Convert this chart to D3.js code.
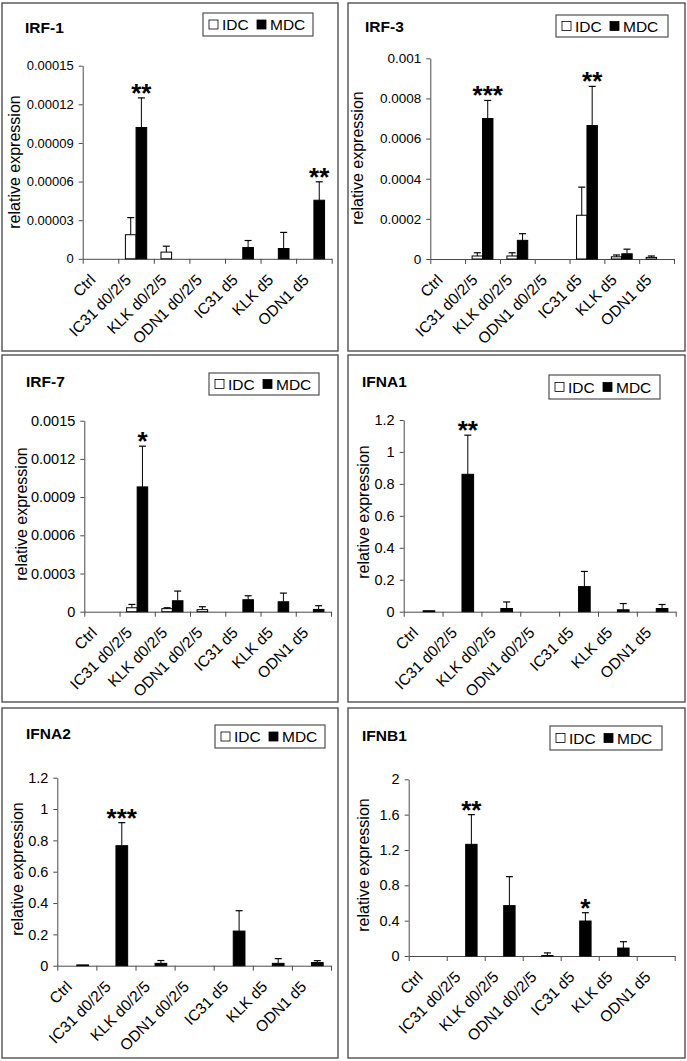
<!DOCTYPE html>
<html><head><meta charset="utf-8">
<script src="https://cdn.jsdelivr.net/npm/d3@7"></script>
<style>body{margin:0;background:#fff}</style>
</head><body>
<script>
// ---------- DATA ----------
const categories = ["Ctrl","IC31 d0/2/5","KLK d0/2/5","ODN1 d0/2/5","IC31 d5","KLK d5","ODN1 d5"];
const seriesNames = ["IDC","MDC"];

const irf1IDC    = [0, 0.0000187, 0.0000052, 0, 0, 0, 0];
const irf1IDCErr = [0, 0.0000133, 0.0000046, 0, 0, 0, 0];
const irf1MDC    = [0, 0.000102, 0, 0, 0.0000088, 0.0000080, 0.0000455];
const irf1MDCErr = [0, 0.000023, 0, 0, 0.0000054, 0.0000125, 0.0000143];
const irf1Sig    = ["", "**", "", "", "", "", "**"];
const irf1Ticks  = [0, 0.00003, 0.00006, 0.00009, 0.00012, 0.00015];
const irf1TickLabels = ["0","0.00003","0.00006","0.00009","0.00012","0.00015"];

const irf3IDC    = [0, 0.000015, 0.000015, 0, 0.000218, 0.000011, 0.000008];
const irf3IDCErr = [0, 0.000016, 0.000016, 0, 0.00014, 0.000009, 0.000007];
const irf3MDC    = [0, 0.0007, 0.000093, 0, 0.000665, 0.000026, 0];
const irf3MDCErr = [0, 0.00009, 0.000033, 0, 0.000195, 0.000023, 0];
const irf3Sig    = ["", "***", "", "", "**", "", ""];
const irf3Ticks  = [0, 0.0002, 0.0004, 0.0006, 0.0008, 0.001];
const irf3TickLabels = ["0","0.0002","0.0004","0.0006","0.0008","0.001"];

const irf7IDC    = [0, 0.000031, 0.000024, 0.000016, 0, 0, 0];
const irf7IDCErr = [0, 0.000026, 0.000007, 0.000023, 0, 0, 0];
const irf7MDC    = [0, 0.00098, 0.000086, 0, 0.000094, 0.000078, 0.000018];
const irf7MDCErr = [0, 0.00032, 0.000076, 0, 0.000031, 0.000068, 0.000029];
const irf7Sig    = ["", "*", "", "", "", "", ""];
const irf7Ticks  = [0, 0.0003, 0.0006, 0.0009, 0.0012, 0.0015];
const irf7TickLabels = ["0","0.0003","0.0006","0.0009","0.0012","0.0015"];

const ifna1IDC    = [0, 0, 0, 0, 0, 0, 0];
const ifna1IDCErr = [0, 0, 0, 0, 0, 0, 0];
const ifna1MDC    = [0.006, 0.86, 0.02, 0, 0.157, 0.012, 0.02];
const ifna1MDCErr = [0, 0.245, 0.041, 0, 0.095, 0.039, 0.025];
const ifna1Sig    = ["", "**", "", "", "", "", ""];
const ifna1Ticks  = [0, 0.2, 0.4, 0.6, 0.8, 1, 1.2];
const ifna1TickLabels = ["0","0.2","0.4","0.6","0.8","1","1.2"];

const ifna2IDC    = [0, 0, 0, 0, 0, 0, 0];
const ifna2IDCErr = [0, 0, 0, 0, 0, 0, 0];
const ifna2MDC    = [0.005, 0.766, 0.015, 0, 0.221, 0.015, 0.02];
const ifna2MDCErr = [0, 0.147, 0.018, 0, 0.13, 0.03, 0.012];
const ifna2Sig    = ["", "***", "", "", "", "", ""];
const ifna2Ticks  = [0, 0.2, 0.4, 0.6, 0.8, 1, 1.2];
const ifna2TickLabels = ["0","0.2","0.4","0.6","0.8","1","1.2"];

const ifnb1IDC    = [0, 0, 0, 0, 0, 0, 0];
const ifnb1IDCErr = [0, 0, 0, 0, 0, 0, 0];
const ifnb1MDC    = [0, 1.264, 0.57, 0.005, 0.396, 0.09, 0];
const ifnb1MDCErr = [0, 0.336, 0.328, 0.03, 0.094, 0.072, 0];
const ifnb1Sig    = ["", "**", "", "", "*", "", ""];
const ifnb1Ticks  = [0, 0.4, 0.8, 1.2, 1.6, 2];
const ifnb1TickLabels = ["0","0.4","0.8","1.2","1.6","2"];

const titles = ["IRF-1","IRF-3","IRF-7","IFNA1","IFNA2","IFNB1"];
const yAxisTitle = "relative expression";

// ---------- LAYOUT ----------
const layouts = [
  {box:[2,3,338,351],   plot:[82.7,331.7,65.7,258.8],  title:[25,33],   legend:[203,13,110,23], ylab:[20,162], tickFont:13},
  {box:[348,3,685,351], plot:[430.3,674,58.3,259],     title:[365,32],  legend:[556,15,112,22], ylab:[363,158], tickFont:13.5},
  {box:[2,355,338,702], plot:[84.3,331,420.7,611.7],   title:[26,387],  legend:[209,373,110,22], ylab:[27,514], tickFont:14.5},
  {box:[348,355,685,702], plot:[403.7,675.7,420,611.7], title:[362,387], legend:[549,375,111,24], ylab:[369,512], tickFont:14.5},
  {box:[2,708,338,1058], plot:[57.3,331,777.7,965.7],  title:[26,739],  legend:[215,725,110,23], ylab:[23,869], tickFont:14.5},
  {box:[348,708,685,1058], plot:[408.7,674.7,779.3,956], title:[362,741], legend:[550,726,112,24], ylab:[369,865], tickFont:14.5}
];

const panelData = [
  {idc:irf1IDC, idcErr:irf1IDCErr, mdc:irf1MDC, mdcErr:irf1MDCErr, sig:irf1Sig, ticks:irf1Ticks, labels:irf1TickLabels},
  {idc:irf3IDC, idcErr:irf3IDCErr, mdc:irf3MDC, mdcErr:irf3MDCErr, sig:irf3Sig, ticks:irf3Ticks, labels:irf3TickLabels},
  {idc:irf7IDC, idcErr:irf7IDCErr, mdc:irf7MDC, mdcErr:irf7MDCErr, sig:irf7Sig, ticks:irf7Ticks, labels:irf7TickLabels},
  {idc:ifna1IDC, idcErr:ifna1IDCErr, mdc:ifna1MDC, mdcErr:ifna1MDCErr, sig:ifna1Sig, ticks:ifna1Ticks, labels:ifna1TickLabels},
  {idc:ifna2IDC, idcErr:ifna2IDCErr, mdc:ifna2MDC, mdcErr:ifna2MDCErr, sig:ifna2Sig, ticks:ifna2Ticks, labels:ifna2TickLabels},
  {idc:ifnb1IDC, idcErr:ifnb1IDCErr, mdc:ifnb1MDC, mdcErr:ifnb1MDCErr, sig:ifnb1Sig, ticks:ifnb1Ticks, labels:ifnb1TickLabels}
];

const FONT = "'Liberation Sans', Arial, Helvetica, sans-serif";
const AXIS = "#4a4a4a";
const W = 687, H = 1061;

const svg = d3.select("body").append("svg").attr("width", W).attr("height", H)
  .style("font-family", FONT);
svg.append("rect").attr("width", W).attr("height", H).attr("fill", "#fff");

panelData.forEach((pd, pi) => {
  const L = layouts[pi];
  const g = svg.append("g");
  const [bx0, by0, bx1, by1] = L.box;
  g.append("rect").attr("x", bx0).attr("y", by0).attr("width", bx1 - bx0).attr("height", by1 - by0)
    .attr("fill", "#fff").attr("stroke", "#505050").attr("stroke-width", 1.4);

  const [px0, px1, pyTop, py0] = L.plot;
  const y = d3.scaleLinear().domain([0, d3.max(pd.ticks)]).range([py0, pyTop]);
  const x = d3.scaleBand().domain(categories).range([px0, px1]).padding(0);
  const xs = d3.scaleBand().domain(seriesNames).range([0, x.bandwidth()]).paddingInner(0).paddingOuter(0.67);

  // y axis
  const ya = g.append("g").attr("transform", `translate(${px0},0)`)
    .call(d3.axisLeft(y).tickValues(pd.ticks).tickFormat((d, i) => pd.labels[i]).tickSize(4).tickSizeOuter(0).tickPadding(5));
  ya.select(".domain").attr("stroke", AXIS);
  ya.selectAll(".tick line").attr("stroke", AXIS);
  ya.selectAll(".tick text").attr("fill", "#000").style("font-size", L.tickFont + "px").style("font-family", FONT);

  // x axis baseline + boundary ticks
  const xb = d3.scaleLinear().domain([0, categories.length]).range([px0, px1]);
  const xa = g.append("g").attr("transform", `translate(0,${py0})`)
    .call(d3.axisBottom(xb).tickValues(d3.range(categories.length + 1)).tickFormat("").tickSize(5).tickSizeOuter(0));
  xa.select(".domain").attr("stroke", AXIS);
  xa.selectAll(".tick line").attr("stroke", AXIS);

  // category labels
  const xl = g.append("g").attr("transform", `translate(0,${py0})`)
    .call(d3.axisBottom(x).tickSize(0).tickPadding(0));
  xl.select(".domain").remove();
  xl.selectAll(".tick text")
    .attr("x", 0).attr("y", 0).attr("dy", 0)
    .attr("transform", "translate(-4,22) rotate(-45)")
    .style("text-anchor", "end").attr("fill", "#000")
    .style("font-size", "15.5px").style("font-family", FONT);

  // bars
  const rows = categories.map((c, i) => ({cat: c, i,
    vals: [{s: "IDC", v: pd.idc[i], e: pd.idcErr[i]}, {s: "MDC", v: pd.mdc[i], e: pd.mdcErr[i]}]}));
  const cg = g.selectAll(".cat").data(rows).join("g").attr("transform", d => `translate(${x(d.cat)},0)`);
  cg.selectAll("rect.bar").data(d => d.vals.filter(v => v.v > 0)).join("rect")
    .attr("class", "bar")
    .attr("x", d => xs(d.s)).attr("width", xs.bandwidth())
    .attr("y", d => y(d.v)).attr("height", d => y(0) - y(d.v))
    .attr("fill", d => d.s === "MDC" ? "#000" : "#fff")
    .attr("stroke", "#000").attr("stroke-width", 1);
  // error bars
  const eb = cg.selectAll("g.err").data(d => d.vals.filter(v => v.e > 0)).join("g").attr("class", "err");
  eb.append("line")
    .attr("x1", d => xs(d.s) + xs.bandwidth() / 2).attr("x2", d => xs(d.s) + xs.bandwidth() / 2)
    .attr("y1", d => y(d.v)).attr("y2", d => y(d.v + d.e))
    .attr("stroke", "#000").attr("stroke-width", 1);
  eb.append("line")
    .attr("x1", d => xs(d.s) + xs.bandwidth() / 2 - 3.5).attr("x2", d => xs(d.s) + xs.bandwidth() / 2 + 3.5)
    .attr("y1", d => y(d.v + d.e)).attr("y2", d => y(d.v + d.e))
    .attr("stroke", "#000").attr("stroke-width", 1.2);

  // significance
  g.selectAll("text.sig").data(rows.filter(r => pd.sig[r.i])).join("text")
    .attr("class", "sig")
    .attr("x", d => x(d.cat) + xs("MDC") + xs.bandwidth() / 2)
    .attr("y", d => y(d.vals[1].v + d.vals[1].e) + 4)
    .attr("text-anchor", "middle").style("font-size", "26px").style("font-weight", "bold")
    .text(d => pd.sig[d.i]);

  // title
  g.append("text").attr("x", L.title[0]).attr("y", L.title[1])
    .style("font-size", "15.5px").style("font-weight", "bold").text(titles[pi]);

  // y axis title
  g.append("text").attr("transform", `translate(${L.ylab[0]},${L.ylab[1]}) rotate(-90)`)
    .attr("text-anchor", "middle").style("font-size", "16px").text(yAxisTitle);

  // legend
  const [lx, ly, lw, lh] = L.legend;
  const lg = g.append("g").attr("transform", `translate(${lx},${ly})`);
  lg.append("rect").attr("width", lw).attr("height", lh).attr("fill", "#fff").attr("stroke", "#505050").attr("stroke-width", 1.2);
  const cy = lh / 2;
  const items = [{s: "IDC", dx: 6}, {s: "MDC", dx: 54}];
  items.forEach(it => {
    lg.append("rect").attr("x", it.dx).attr("y", cy - 4.5).attr("width", 9).attr("height", 9)
      .attr("fill", it.s === "MDC" ? "#000" : "#fff").attr("stroke", "#000").attr("stroke-width", 0.8);
    lg.append("text").attr("x", it.dx + 13).attr("y", cy + 5.5).style("font-size", "15.5px").text(it.s);
  });
});
</script>
</body></html>
